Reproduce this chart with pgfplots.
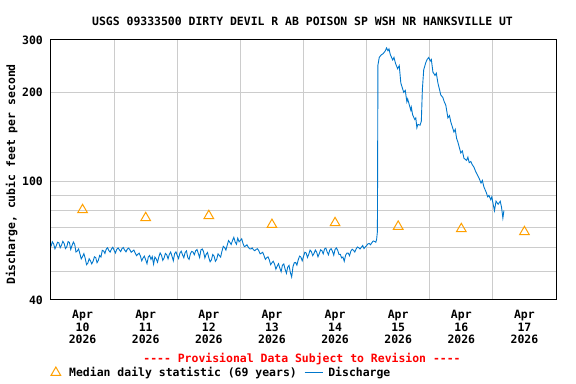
\documentclass[border=0pt]{standalone}
\usepackage{fontspec}
\setmainfont{DejaVu Sans Mono}[Ligatures=TeXOff]
\usepackage{pgfplots}
\pgfplotsset{compat=1.18}
\definecolor{usgsblue}{RGB}{0,119,204}
\definecolor{medorange}{RGB}{255,160,0}
\definecolor{gridgray}{RGB}{204,204,204}
\newcommand{\uf}{\fontsize{11.5}{12.7}\selectfont\bfseries}
\pgfplotsset{
  medlegend/.style={legend image code/.code={\draw[mark repeat=2,mark phase=2,##1] plot coordinates {(0bp,0bp) (5.6bp,0bp) (11.2bp,0bp)};}},
  linelegend/.style={legend image code/.code={\draw[##1] (0bp,0bp) -- (18bp,0bp);}},
}
\begin{document}
\begin{tikzpicture}
\begin{axis}[
  name=ax,
  scale only axis, width=505bp, height=260bp,
  ymode=log, log basis y=10,
  xmin=0, xmax=192, ymin=40, ymax=300,
  ytick={40,100,200,300}, yticklabels={40,100,200,300},
  minor ytick={50,60,70,80,90},
  ymajorgrids, yminorgrids,
  xtick={12,36,60,84,108,132,156,180},
  xticklabels={Apr\\10\\2026,Apr\\11\\2026,Apr\\12\\2026,Apr\\13\\2026,Apr\\14\\2026,Apr\\15\\2026,Apr\\16\\2026,Apr\\17\\2026},
  minor xtick={24,48,72,96,120,144,168},
  xminorgrids,
  grid style={gridgray, line width=1bp},
  minor grid style={gridgray, line width=1bp},
  major tick length=0pt, minor tick length=0pt,
  tick label style={font=\uf, inner sep=0pt},
  xticklabel style={align=center, anchor=north, yshift=-10bp},
  yticklabel style={anchor=east, xshift=-8bp},
  /pgf/number format/assume math mode=true,
  axis line style={line width=1bp, black},
  legend columns=2,
  legend style={draw=none, fill=none, at={(0,-0.279)}, anchor=west,
    font=\uf, inner sep=0pt, outer sep=0pt,
    nodes={inner sep=0pt},
    /tikz/column 1/.style={column sep=8.5bp},
    /tikz/column 2/.style={column sep=7.3bp},
    /tikz/column 3/.style={column sep=5.3bp}},
]
\coordinate (O) at (rel axis cs:0,0);
\addplot[only marks, mark=triangle, mark size=5.6bp, mark options={medorange, line width=1bp, fill=none}, medlegend]
  coordinates {(12,80.4) (36,75.6) (60,76.8) (84,71.7) (108,72.7) (132,70.7) (156,69.4) (180,67.8)};
\addlegendentry{Median daily statistic (69 years)}
\addplot[usgsblue, line width=0.9bp, no marks, linelegend]
  table {
0 60.5
0.5 62.8
1 61.8
1.5 59.5
2 60.9
2.5 62.6
3 62.3
3.5 60.0
4 61.2
4.5 63.0
5 62.0
5.5 59.6
6 60.4
6.5 62.9
7 62.5
7.5 59.2
8 61.0
8.5 62.7
9 61.6
9.5 58.0
10 58.5
10.5 59.4
11 57.2
11.5 55.0
12 56.0
12.5 57.3
13 55.3
13.5 52.6
14 53.2
14.5 55.1
15 54.2
15.5 52.9
16 54.0
16.5 55.9
17 55.6
17.5 53.4
18 54.4
18.5 56.5
19 55.8
19.5 58.8
20 58.5
20.5 57.4
21 59.3
21.5 60.0
22 58.6
22.5 58.0
23 59.4
23.5 60.2
24 58.8
24.5 57.6
25 59.2
25.5 59.9
26 59.0
26.5 58.2
27 59.6
27.5 60.1
28 58.9
28.5 58.1
29 59.3
29.5 59.8
30 59.0
30.5 57.9
31 58.4
31.5 58.9
32 57.6
32.5 56.4
33 57.0
33.5 57.5
34 56.2
34.5 54.2
35 55.4
35.5 56.2
36 54.6
36.5 53.0
37 55.8
37.5 56.5
38 54.8
38.5 56.0
39 52.8
39.5 55.8
40 55.0
40.5 53.6
41 55.9
41.5 57.6
42 56.6
42.5 54.4
43 55.4
43.5 57.4
44 56.8
44.5 55.0
45 57.0
45.5 58.0
46 56.2
46.5 54.2
47 57.3
47.5 58.1
48 56.5
48.5 55.2
49 57.5
49.5 58.4
50 56.8
50.5 55.5
51 57.8
51.5 58.5
52 55.6
52.5 54.8
53 57.2
53.5 58.3
54 58.0
54.5 56.8
55 58.6
55.5 59.2
56 57.4
56.5 55.6
57 59.0
57.5 59.4
58 58.2
58.5 55.4
59 57.0
59.5 57.8
60 55.5
60.5 53.8
61 54.6
61.5 56.9
62 56.2
62.5 54.0
63 54.8
63.5 57.2
64 56.5
64.5 55.8
65 58.4
65.5 60.6
66 60.0
66.5 58.9
67 61.2
67.5 63.4
68 62.5
68.5 61.5
69 63.4
69.5 65.0
70 62.8
70.5 61.6
71 64.6
71.5 62.8
72 63.5
72.5 64.3
73 62.0
73.5 60.5
74 60.8
74.5 61.4
75 60.2
75.5 59.5
76 59.4
76.5 59.9
77 59.0
77.5 58.6
78 59.2
78.5 59.5
79 58.6
79.5 57.2
80 57.5
80.5 57.9
81 56.4
81.5 54.8
82 55.5
82.5 55.9
83 54.6
83.5 52.6
84 53.4
84.5 54.0
85 52.8
85.5 50.8
86 52.0
86.5 53.0
87 51.2
87.5 49.8
88 52.4
88.5 52.9
89 50.8
89.5 49.2
90 51.6
90.5 52.3
91 49.5
91.5 47.8
92 51.8
92.5 53.4
93 53.5
93.5 52.4
94 54.6
94.5 56.2
95 55.8
95.5 54.2
96 56.0
96.5 57.9
97 57.6
97.5 55.6
98 57.0
98.5 58.9
99 58.2
99.5 56.4
100 57.4
100.5 58.9
101 58.0
101.5 55.9
102 57.3
102.5 59.0
103 58.6
103.5 57.2
104 59.4
104.5 59.8
105 58.0
105.5 56.8
106 59.0
106.5 59.6
107 58.4
107.5 56.6
108 59.2
108.5 59.9
109 58.8
109.5 56.9
110 57.0
110.5 55.4
111 55.8
111.5 54.0
112 56.6
112.5 57.5
113 57.5
113.5 56.4
114 58.4
114.5 59.3
115 58.8
115.5 58.0
116 59.4
116.5 60.3
117 60.0
117.5 59.4
118 60.2
118.5 61.0
119 59.6
119.5 60.4
120 61.0
120.5 61.8
121 62.0
121.5 61.4
122 62.4
122.5 63.2
123 63.0
123.5 62.6
123.8 64.0
124.1 68
124.3 247
124.8 262
125.5 267
126.3 270
127 275
127.6 282
128.1 276
128.5 280
129 268
129.9 257
130.4 262
131 250
131.8 240
132.4 246
133 215
134.1 200
134.7 203
135 194
135.3 186
135.6 190
136.8 174
137 178
137.5 168
138.3 162
138.7 164
139.1 152
139.5 156
140.3 155
140.8 160
141.2 205
141.7 238
142.5 252
143 258
143.6 262
144.2 255
144.6 258
145.2 234
146 228
146.5 232
147.1 215
148.2 196
149 192
149.5 186
150.1 181
150.9 164
151.5 167
152 159
153.2 147
153.7 150
154.2 140
154.7 136
155.8 125
156.4 127
157 120
158 118
158.5 121
159 116
159.6 117
160.2 114
160.8 112
161.5 108
162.7 103
163.5 99
164 101
164.6 96
165.5 92
166 89
166.5 90
167.2 87
167.6 89
168 85
168.6 80
169.2 86
170 84
170.8 86
171.3 82
171.8 75.5
172.2 80
};
\addlegendentry{Discharge}
\end{axis}
\node[font=\uf, anchor=base] at ([shift={(251.5bp,274bp)}]O) {USGS 09333500 DIRTY DEVIL R AB POISON SP WSH NR HANKSVILLE UT};
\node[font=\uf, anchor=base, rotate=90] at ([shift={(-36bp,125.5bp)}]O) {Discharge, cubic feet per second};
\node[font=\uf, anchor=base, text=red] at ([shift={(251bp,-62.7bp)}]O) {---- Provisional Data Subject to Revision ----};
\path ([shift={(-51bp,-84bp)}]O) rectangle ++(576bp,384bp);
\end{tikzpicture}
\end{document}
